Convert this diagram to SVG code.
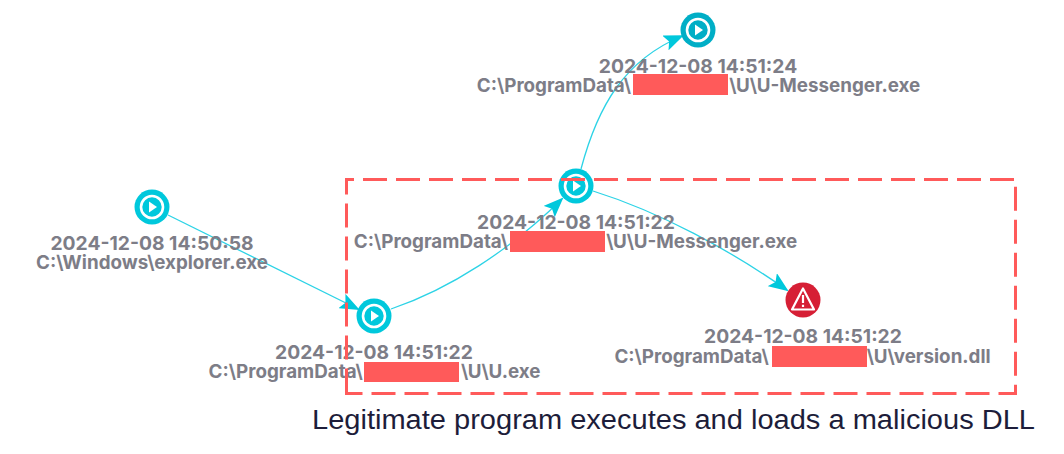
<svg xmlns="http://www.w3.org/2000/svg" width="1064" height="454" viewBox="0 0 1064 454">
<style>
.l{font-family:Inter,"Liberation Sans",sans-serif;font-weight:700;font-size:18.8px;fill:#7d7d87;text-anchor:middle}
.d{font-size:19.3px}
.e{fill:none;stroke:#2dd3e6;stroke-width:1.3}
.r{fill:#ff5a5a}
.c{font-family:"Liberation Sans",Arial,sans-serif;font-size:27px;fill:#1d1d3a}
</style>
<defs>
<marker id="a" viewBox="0 0 20 16" refX="18" refY="8" markerWidth="20" markerHeight="16" markerUnits="userSpaceOnUse" orient="auto"><path d="M0 0L20 8L0 16L4 8Z" fill="#00c8dc"/></marker>
<g id="p"><circle r="17.5" fill="currentColor"/><circle r="11" fill="currentColor" stroke="#fff" stroke-width="2.6"/><path d="M-3-5.5L5 0L-3 5.500Z" fill="#fff"/></g>
</defs>
<rect width="1064" height="454" fill="#fff"/>
<g id="connectors">
<path class="e" d="M168 215L358 309" marker-end="url(#a)"/>
<path class="e" d="M391 309C450 289 510 250 562 199" marker-end="url(#a)"/>
<path class="e" d="M581 169C598 105 625 60 682 36" marker-end="url(#a)"/>
<path class="e" d="M593 191C660 212 730 250 787 290" marker-end="url(#a)"/>
</g>
<g id="n1"><use href="#p" x="152" y="207" color="#00c8dc"/><text class="l d" x="152" y="250">2024-12-08 14:50:58</text><text class="l" x="152" y="269">C:\Windows\explorer.exe</text></g>
<g id="n2"><use href="#p" x="374" y="316" color="#00c8dc"/><text class="l d" x="374" y="359">2024-12-08 14:51:22</text><text class="l" x="374.500" y="378">C:\ProgramData\<tspan fill="none">xxxxxxxxx</tspan>\U\U.exe</text><rect class="r" x="364" y="362" width="95" height="20"/></g>
<g id="n3"><use href="#p" x="576" y="186" color="#00c8dc"/><text class="l d" x="576" y="229">2024-12-08 14:51:22</text><text class="l" x="575.500" y="248">C:\ProgramData\<tspan fill="none">xxxxxxxxx</tspan>\U\U-Messenger.exe</text><rect class="r" x="510" y="231" width="95" height="21"/></g>
<g id="n4"><use href="#p" x="698" y="30" color="#00aec6"/><text class="l d" x="698" y="73">2024-12-08 14:51:24</text><text class="l" x="698.500" y="92">C:\ProgramData\<tspan fill="none">xxxxxxxxx</tspan>\U\U-Messenger.exe</text><rect class="r" x="633" y="74" width="95" height="21"/></g>
<g id="n5"><circle cx="803" cy="300" r="17.5" fill="#d61f35"/><path d="M803 288.500L814 309.500H792Z" fill="none" stroke="#fff" stroke-width="2.2" stroke-linejoin="round"/><path d="M803 295V303M803 304.800V307" stroke="#fff" stroke-width="2.2"/><text class="l d" x="803" y="343">2024-12-08 14:51:22</text><text class="l" x="802.500" y="363">C:\ProgramData\<tspan fill="none">xxxxxxxxx</tspan>\U\version.dll</text><rect class="r" x="772" y="346" width="95" height="21"/></g>
<g id="frame" fill="none" stroke="#ff5a5a" stroke-width="3" stroke-dasharray="24 9">
<path d="M345 179.500H1015.500" stroke-dashoffset="15"/>
<path d="M1015.500 179.500V395" stroke-dashoffset="25.700"/>
<path d="M1017 393.500H345" stroke-dashoffset="5.500"/>
<path d="M346.500 393.500V178" stroke-dashoffset="32"/>
</g>
<text class="c" x="312" y="428.500" textLength="723" lengthAdjust="spacingAndGlyphs">Legitimate program executes and loads a malicious DLL</text>
</svg>
